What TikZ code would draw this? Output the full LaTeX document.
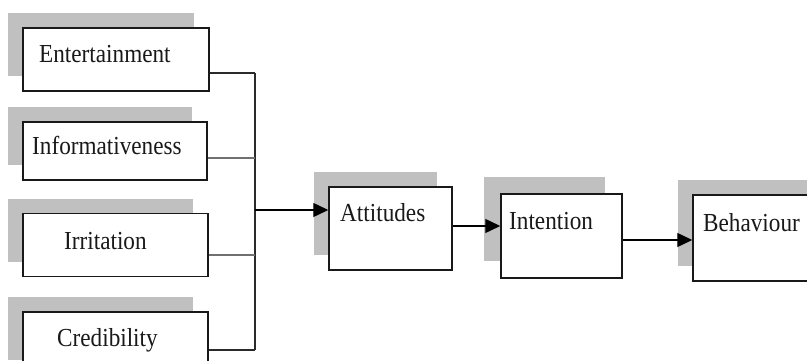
\documentclass[tikz,border=0pt]{standalone}
\usepackage{fontspec}
\setmainfont{Liberation Serif}
\usepackage{graphicx}
\usetikzlibrary{arrows.meta,shadows}
\definecolor{shade}{HTML}{C0C0C0}
\definecolor{wire}{HTML}{2A2A2A}
\definecolor{softwire}{HTML}{707070}
% labels are set slightly taller than wide
\newcommand{\lbl}[1]{\scalebox{1}[1.12]{#1}}

\begin{document}
\begin{tikzpicture}[x=1pt,y=-1pt,
  box/.style={rectangle, draw=black!90, line width=1.5pt, fill=white, inner sep=0pt,
    general shadow={fill=shade, shadow xshift=-#1pt, shadow yshift=#1pt}},
  box/.default=15,
  lab/.style={anchor=base west, inner sep=0pt, text=black!90, font=\fontsize{23.2}{26}\selectfont},
  conn/.style={draw=wire, line width=1.4pt},
  softconn/.style={draw=softwire, line width=2.3pt},
  arr/.style={draw=black, line width=1.4pt, -{Triangle[length=15pt,width=14pt]}}
]
\useasboundingbox (0,0) rectangle (807,361);
\clip (0,0) rectangle (807,361);

% factor boxes
\node[box, minimum width=186pt, minimum height=63pt] (ent)  at (116,59.5) {};
\node[box, minimum width=184pt, minimum height=58pt] (inf)  at (115,151) {};
\node[box, minimum width=185pt, minimum height=63pt] (irr)  at (115.5,245) {};
\node[box, minimum width=185pt, minimum height=63pt] (cred) at (115.5,343.5) {};

% outcome chain
\node[box, minimum width=123pt, minimum height=83pt] (att) at (390.5,228.5) {};
\node[box=17, minimum width=121pt, minimum height=84pt] (int) at (561.5,236) {};
\node[box, minimum width=130pt, minimum height=86pt] (beh) at (758,238) {};

% labels
\node[lab] (ent-t)  at (39,63)   {\lbl{Entertainment}};
\node[lab] (inf-t)  at (32,154)  {\lbl{Informativeness}};
\node[lab] (irr-t)  at (64,249)  {\lbl{Irritation}};
\node[lab] (cred-t) at (57,346)  {\lbl{Credibility}};
\node[lab] (att-t)  at (340,221) {\lbl{Attitudes}};
\node[lab] (int-t)  at (509,229) {\lbl{Intention}};
\node[lab] (beh-t)  at (703,231) {\lbl{Behaviour}};

% collecting bus
\coordinate (j1) at (255,73);
\coordinate (j2) at (255,158);
\coordinate (j3) at (255,255);
\coordinate (j4) at (255,350);
\coordinate (jm) at (255,210);
\coordinate (ai) at (0,226);
\coordinate (ib) at (0,240);

\draw[conn] (j1) -- (j4);
\draw[conn] (ent.east |- j1) -- (j1);
\draw[softconn] (inf.east |- j2) -- (j2);
\draw[softconn] (irr.east |- j3) -- (j3);
\draw[conn] (cred.east |- j4) -- (j4);

% arrows
\draw[arr] (jm) -- (att.west |- jm);
\draw[arr] (att.east |- ai) -- (int.west |- ai);
\draw[arr] (int.east |- ib) -- (beh.west |- ib);
\end{tikzpicture}
\end{document}
